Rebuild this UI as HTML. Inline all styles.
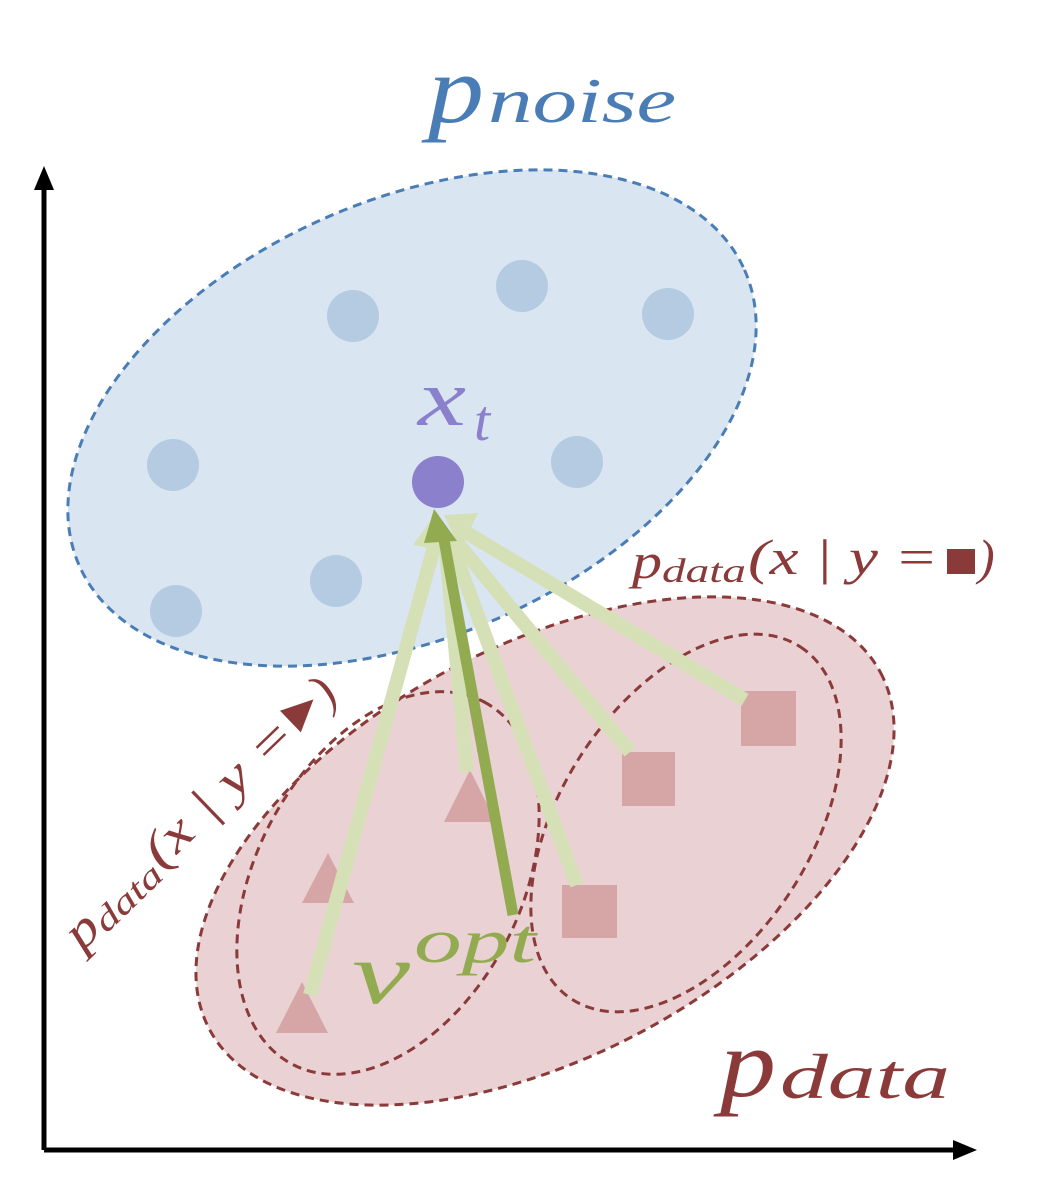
<!DOCTYPE html>
<html><head><meta charset="utf-8"><style>
html,body{margin:0;padding:0;background:#fff;width:1044px;height:1196px;overflow:hidden}
svg{display:block}
text{font-family:"Liberation Serif","DejaVu Serif",serif;font-style:italic}
</style></head><body>
<svg width="1044" height="1196" viewBox="0 0 1044 1196">
<line x1="44" y1="1150" x2="44" y2="185" stroke="#000" stroke-width="5"/>
<polygon points="44,166 34,190 54,190" fill="#000"/>
<line x1="44" y1="1150" x2="958" y2="1150" stroke="#000" stroke-width="5"/>
<polygon points="977,1150 953,1140 953,1160" fill="#000"/>

<ellipse cx="412" cy="418" rx="364" ry="218" transform="rotate(-24 412 418)" fill="#d9e5f1" stroke="#4a7db5" stroke-width="3" stroke-dasharray="9,6"/>
<ellipse cx="545" cy="851" rx="380" ry="205" transform="rotate(-28 545 851)" fill="#ead2d4" stroke="#8b3a3a" stroke-width="3" stroke-dasharray="9,6"/>
<ellipse cx="388" cy="883" rx="205" ry="132" transform="rotate(-62 388 883)" fill="none" stroke="#8b3a3a" stroke-width="3" stroke-dasharray="9,6"/>
<ellipse cx="686" cy="823" rx="210" ry="125" transform="rotate(-57 686 823)" fill="none" stroke="#8b3a3a" stroke-width="3" stroke-dasharray="9,6"/>

<g fill="#b4cbe2">
<circle cx="353" cy="316" r="26"/><circle cx="522" cy="286" r="26"/><circle cx="668" cy="314" r="26"/>
<circle cx="173" cy="465" r="26"/><circle cx="577" cy="462" r="26"/><circle cx="336" cy="581" r="26"/><circle cx="176" cy="611" r="26"/>
</g>

<g fill="#d6a5a5">
<polygon points="470,770 444,822 496,822"/>
<polygon points="328,853 302,903 354,903"/>
<polygon points="302,982 276,1033 328,1033"/>
<rect x="741" y="691" width="55" height="55"/>
<rect x="622" y="752" width="53" height="54"/>
<rect x="562" y="885" width="55" height="53"/>
</g>

<g stroke="#d5e0b6" stroke-width="14" stroke-linecap="butt" fill="none">
<line x1="310" y1="995" x2="436" y2="540"/>
<line x1="467" y1="772" x2="445" y2="540"/>
<line x1="577" y1="885" x2="450" y2="540"/>
<line x1="630" y1="752" x2="455" y2="540"/>
<line x1="745" y1="700" x2="462" y2="530"/>
</g>
<polygon points="413,545 437,512 452,552" fill="#d5e0b6"/>
<polygon points="444,515 478,513 460,550" fill="#d5e0b6"/>
<line x1="513" y1="915" x2="444" y2="540" stroke="#93ab50" stroke-width="11"/>
<polygon points="434,509 424,543 457,541" fill="#93ab50"/>

<circle cx="438" cy="482" r="26" fill="#8b80cc"/>
<text x="418" y="425" font-size="80" fill="#8b80cc" textLength="48" lengthAdjust="spacingAndGlyphs">x</text>
<text x="474" y="440" font-size="58" fill="#8b80cc">t</text>

<text x="428" y="122" font-size="96" fill="#4a7db5" textLength="56" lengthAdjust="spacingAndGlyphs">p</text>
<text x="488" y="122" font-size="64" fill="#4a7db5" textLength="188" lengthAdjust="spacingAndGlyphs">noise</text>
<text x="352" y="1003" font-size="88" fill="#93ab50" textLength="58" lengthAdjust="spacingAndGlyphs">v</text>
<text x="414" y="962" font-size="62" fill="#93ab50" textLength="122" lengthAdjust="spacingAndGlyphs">opt</text>
<text x="720" y="1096" font-size="96" fill="#8b3a3a" textLength="56" lengthAdjust="spacingAndGlyphs">p</text>
<text x="780" y="1098" font-size="64" fill="#8b3a3a" textLength="170" lengthAdjust="spacingAndGlyphs">data</text>

<text x="632" y="578" font-size="50" fill="#8b3a3a" textLength="30" lengthAdjust="spacingAndGlyphs">p</text>
<text x="662" y="582" font-size="34" fill="#8b3a3a" textLength="84" lengthAdjust="spacingAndGlyphs">data</text>
<text x="748" y="574" font-size="50" fill="#8b3a3a" textLength="190" lengthAdjust="spacingAndGlyphs">(x | y =</text>
<rect x="947" y="549" width="28" height="25" fill="#8b3a3a"/>
<text x="978" y="574" font-size="50" fill="#8b3a3a">)</text>

<g transform="translate(82,952) rotate(-44)">
<text x="0" y="0" font-size="50" fill="#8b3a3a" textLength="30" lengthAdjust="spacingAndGlyphs">p</text>
<text x="30" y="4" font-size="34" fill="#8b3a3a" textLength="82" lengthAdjust="spacingAndGlyphs">data</text>
<text x="114" y="-4" font-size="50" fill="#8b3a3a" textLength="190" lengthAdjust="spacingAndGlyphs">(x | y =</text>
<polygon points="310,-36 310,-6 342,-21" fill="#8b3a3a"/>
<text x="346" y="-4" font-size="50" fill="#8b3a3a">)</text>
</g>
</svg>
</body></html>
